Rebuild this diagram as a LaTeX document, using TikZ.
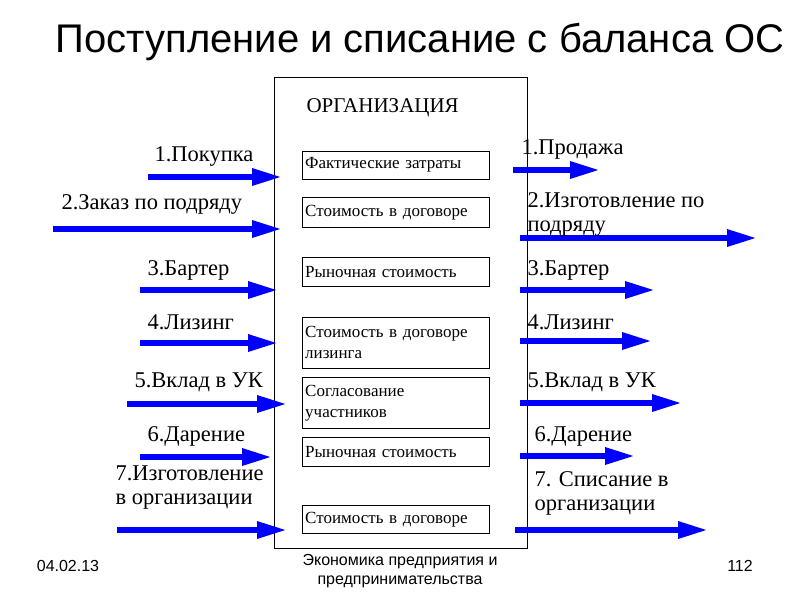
\documentclass[tikz,border=0pt]{standalone}
\usepackage{fontspec}
\setmainfont{Liberation Serif}
\newfontfamily\sansf{Liberation Sans}
\usetikzlibrary{arrows.meta}
\begin{document}
\begin{tikzpicture}[x=1pt,y=-1pt,
  blarrow/.style={draw=blue,line width=6pt,-{Triangle[length=30pt 0,width=16pt 0]}},
  lbl/.style={font=\fontsize{22.5}{24}\selectfont,anchor=west,align=left},
  ibox/.style={draw,anchor=north west,minimum width=187pt,inner sep=3pt,align=left,font=\fontsize{17}{21}\selectfont,text width=181pt},
  foot/.style={font=\sansf\fontsize{16}{19}\selectfont}]
\useasboundingbox (0,0) rectangle (800,600);
\node[font=\sansf\fontsize{40}{44}\selectfont] (title) at (420,42) {Поступление и списание с баланса ОС};
\draw (274,77) rectangle (527,548);
\node[font=\fontsize{21}{22}\selectfont,anchor=west] (org) at (303,108) {ОРГАНИЗАЦИЯ};
\node[ibox,minimum height=28pt] (b1) at (302,151) {Фактические затраты};
\node[ibox,minimum height=30pt] (b2) at (302,197) {Стоимость в договоре};
\node[ibox,minimum height=29pt] (b3) at (302,257) {Рыночная стоимость};
\node[ibox,minimum height=51pt] (b4) at (302,317) {Стоимость в договоре\\лизинга};
\node[ibox,minimum height=51pt] (b5) at (302,377) {Согласование\\участников};
\node[ibox,minimum height=29pt] (b6) at (302,437) {Рыночная стоимость};
\node[ibox,minimum height=28pt] (b7) at (302,505) {Стоимость в договоре};
% left arrows
\foreach \i/\xa/\xb/\y in {1/148/282/177,2/53/282/229,3/140/278/290,4/140/278/343,5/127/287/404,6/140/272/457,7/117/287/530}{
  \coordinate (ls\i) at (\xa,\y); \coordinate (le\i) at (\xb,\y);
  \draw[blarrow] (ls\i) -- (le\i);}
\foreach \i/\xa/\xb/\y in {1/513/600/170,2/520/757/238,3/520/655/290,4/520/652/341,5/520/682/403,6/520/635/456,7/515/708/530}{
  \coordinate (rs\i) at (\xa,\y); \coordinate (re\i) at (\xb,\y);
  \draw[blarrow] (rs\i) -- (re\i);}
\node[lbl] (l1) at (151,156) {1.Покупка};
\node[lbl] (l2) at (58,204) {2.Заказ по подряду};
\node[lbl] (l3) at (144,270) {3.Бартер};
\node[lbl] (l4) at (144,322) {4.Лизинг};
\node[lbl] (l5) at (131,382) {5.Вклад в УК};
\node[lbl] (l6) at (144,436) {6.Дарение};
\node[lbl,inner ysep=0pt] (l7) at (112,488) {7.Изготовление\\в организации};
\node[lbl] (r1) at (518,149) {1.Продажа};
\node[lbl,inner ysep=0pt] (r2) at (524,214) {2.Изготовление по\\подряду};
\node[lbl] (r3) at (524,270) {3.Бартер};
\node[lbl] (r4) at (524,322) {4.Лизинг};
\node[lbl] (r5) at (524,382) {5.Вклад в УК};
\node[lbl] (r6) at (531,436) {6.Дарение};
\node[lbl,inner ysep=0pt] (r7) at (531,493) {7. Списание в\\организации};
\node[foot] (d) at (68,566) {04.02.13};
\node[foot,align=center] (f) at (400,571) {Экономика предприятия и\\предпринимательства};
\node[foot] (p) at (740,566) {112};
\end{tikzpicture}
\end{document}
